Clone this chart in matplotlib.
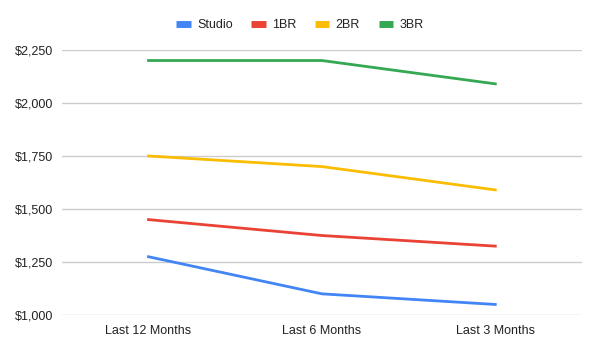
import matplotlib
matplotlib.use("Agg")
import matplotlib.pyplot as plt
from matplotlib.ticker import FuncFormatter

periods = ["Last 12 Months", "Last 6 Months", "Last 3 Months"]
studio = [1275, 1100, 1050]
br1 = [1450, 1375, 1325]
br2 = [1750, 1700, 1590]
br3 = [2200, 2200, 2090]

series = [("Studio", studio, "#4285F4"),
          ("1BR", br1, "#EA4335"),
          ("2BR", br2, "#FBBC04"),
          ("3BR", br3, "#34A853")]

plt.rcParams['font.family'] = ['Liberation Sans', 'DejaVu Sans']

fig = plt.figure(figsize=(6, 3.54), dpi=100)
ax = fig.add_axes([0.103, 0.110, 0.867, 0.749])

x = range(len(periods))
for name, vals, col in series:
    ax.plot(x, vals, color=col, linewidth=2, label=name)

ax.set_xlim(-0.5, 2.5)
ax.set_ylim(1000, 2250)
ax.set_yticks([1000, 1250, 1500, 1750, 2000, 2250])
ax.yaxis.set_major_formatter(FuncFormatter(lambda v, p: f"${v:,.0f}"))
ax.set_xticks(list(x))
ax.set_xticklabels(periods)
ax.grid(axis='y', color='#cccccc', linewidth=1)
ax.set_axisbelow(True)
for s in ax.spines.values():
    s.set_visible(False)
ax.tick_params(axis='both', length=0, labelsize=9, colors='#222222')
ax.tick_params(axis='y', pad=6)
ax.tick_params(axis='x', pad=7)

leg = fig.legend(loc='center', bbox_to_anchor=(0.5, 0.928), ncol=4, frameon=False,
                 fontsize=9, handlelength=1.15, handletextpad=0.5, columnspacing=1.5)
for h in leg.get_lines():
    h.set_linewidth(5)
    h.set_solid_capstyle('butt')
for t in leg.get_texts():
    t.set_color('#222222')

fig.savefig("out.png", dpi=100)
